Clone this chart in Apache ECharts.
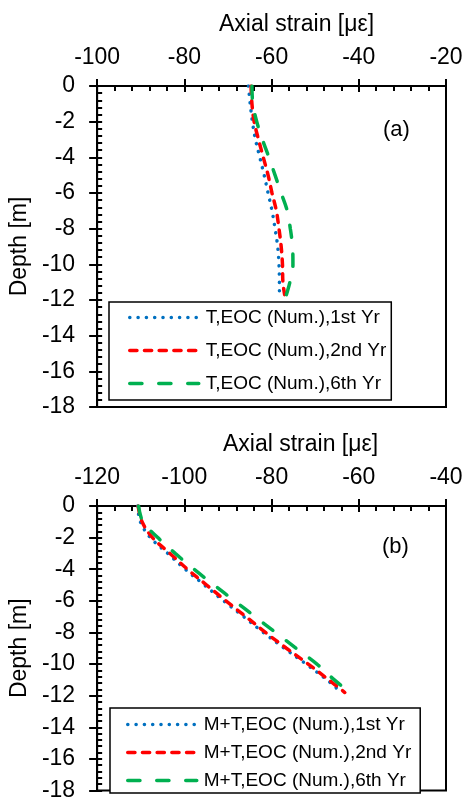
<!DOCTYPE html>
<html>
<head>
<meta charset="utf-8">
<title>Axial strain vs depth</title>
<script src="https://cdn.jsdelivr.net/npm/echarts@6/dist/echarts.min.js"></script>
<style>
  html, body { margin: 0; padding: 0; background: #fff; }
  #chart { width: 466px; height: 802px; }
</style>
</head>
<body>
<div id="chart"></div>
<script>
// Depth stations along the pile [m]
const depthA = [0, -1, -2, -3, -4, -5, -6, -7, -8, -9, -10, -11, -11.7];
const depthB = [0, -1, -2, -3, -4, -5, -6, -7, -8, -9, -10, -11, -11.8];

// (a) thermal load only, axial strain [µε]
const strainA1 = [-65.3, -64.9, -64.4, -63.7, -62.7, -61.7, -60.8, -59.9, -59.2, -58.6, -58.3, -58.2, -58.2];
const strainA2 = [-64.7, -64.5, -64.0, -63.0, -61.9, -60.8, -59.9, -58.9, -58.3, -57.8, -57.5, -57.4, -57.0];
const strainA6 = [-64.5, -64.3, -63.4, -62.1, -60.6, -59.2, -57.8, -56.4, -55.7, -55.2, -55.1, -55.8, -56.6];

// (b) mechanical + thermal load, axial strain [µε]
const strainB1 = [-110.7, -110.1, -107.8, -103.8, -99.8, -95.4, -91.0, -86.4, -81.9, -77.1, -72.1, -67.3, -64.0];
const strainB2 = [-110.6, -109.7, -107.3, -103.3, -99.3, -94.9, -90.5, -85.9, -81.4, -76.6, -71.6, -66.9, -63.2];
const strainB6 = [-110.5, -109.5, -106.1, -102.1, -97.8, -93.2, -88.5, -83.8, -79.1, -74.4, -69.6, -65.6, -62.0];

const namesA = ['T,EOC (Num.),1st Yr', 'T,EOC (Num.),2nd Yr', 'T,EOC (Num.),6th Yr'];
const namesB = ['M+T,EOC (Num.),1st Yr', 'M+T,EOC (Num.),2nd Yr', 'M+T,EOC (Num.),6th Yr'];

const xRangeA = [-100, -20];
const xRangeB = [-120, -40];
const depthRange = [-18, 0];

const FONT = "'Liberation Sans', Arial, sans-serif";
const BLUE = '#0070C0', RED = '#FF0000', GREEN = '#00B050';

const styles = [
  { color: BLUE, width: 3.5, type: [0.1, 8.2], cap: 'round' },
  { color: RED, width: 3.5, type: [7.2, 7.5], cap: 'round' },
  { color: GREEN, width: 3.5, type: [12.2, 16.8], cap: 'round' }
];

function pairs(xs, ys) { return xs.map((v, i) => [v, ys[i]]); }

function xAxes(gridIndex, range, namePad) {
  return [
    {
      gridIndex, type: 'value', position: 'top', min: range[0], max: range[1], interval: 20,
      name: 'Axial strain [\u03bc\u03b5]', nameLocation: 'middle', nameGap: 50,
      nameTextStyle: { fontFamily: FONT, fontSize: 23, color: '#000', padding: [0, 0, 0, namePad] },
      axisLine: { show: true, lineStyle: { color: '#000', width: 2 } },
      axisTick: { show: true, inside: false, length: 7, lineStyle: { color: '#000', width: 2 } },
      axisLabel: { fontFamily: FONT, fontSize: 23, color: '#000', margin: 17 },
      splitLine: { show: false }
    },
    {
      gridIndex, type: 'value', position: 'top', min: range[0], max: range[1], interval: 20,
      axisLine: { show: false },
      axisTick: { show: true, inside: true, length: 6, lineStyle: { color: '#000', width: 2 } },
      minorTick: { show: true, splitNumber: 5, length: 5, lineStyle: { color: '#000', width: 2 } },
      axisLabel: { show: false },
      splitLine: { show: false }
    }
  ];
}

function yAxes(gridIndex) {
  return [
    {
      gridIndex, type: 'value', position: 'left', min: depthRange[0], max: depthRange[1], interval: 2,
      name: 'Depth [m]', nameLocation: 'middle', nameGap: 62,
      nameTextStyle: { fontFamily: FONT, fontSize: 23, color: '#000' },
      axisLine: { show: true, lineStyle: { color: '#000', width: 2 } },
      axisTick: { show: true, inside: false, length: 8, lineStyle: { color: '#000', width: 2 } },
      axisLabel: { fontFamily: FONT, fontSize: 23, color: '#000', margin: 22 },
      splitLine: { show: false }
    },
    {
      gridIndex, type: 'value', position: 'left', min: depthRange[0], max: depthRange[1], interval: 2,
      axisLine: { show: false },
      axisTick: { show: true, inside: true, length: 5, lineStyle: { color: '#000', width: 2 } },
      minorTick: { show: true, splitNumber: 5, length: 5, lineStyle: { color: '#000', width: 2 } },
      axisLabel: { show: false },
      splitLine: { show: false }
    }
  ];
}

function lineSeries(name, xs, ys, idx, style) {
  return {
    name, type: 'line', xAxisIndex: idx, yAxisIndex: idx,
    data: pairs(xs, ys), smooth: 0.35, symbol: 'none', showSymbol: false,
    lineStyle: style, itemStyle: { color: style.color }, silent: true, animation: false
  };
}

function legendBox(names, left, top, gap, pad) {
  return {
    show: true, orient: 'vertical', left, top, data: names,
    itemWidth: 69, itemHeight: 18, itemGap: gap,
    padding: pad, backgroundColor: '#fff',
    borderColor: '#000', borderWidth: 1.5, borderRadius: 0,
    // only the line sample is shown in each legend entry
    itemStyle: { opacity: 0 },
    lineStyle: { width: 3.5 },
    textStyle: { fontFamily: FONT, fontSize: 19, color: '#000', lineHeight: 18, padding: [0, 0, 0, 2] },
    selectedMode: false
  };
}

const chart = echarts.init(document.getElementById('chart'), null, { renderer: 'canvas' });
chart.setOption({
  animation: false,
  backgroundColor: '#fff',
  grid: [
    { left: 96, top: 86, width: 350, height: 321, show: true, borderColor: '#000', borderWidth: 2, backgroundColor: 'transparent' },
    { left: 96, top: 506, width: 350, height: 291, show: true, borderColor: '#000', borderWidth: 2, backgroundColor: 'transparent' }
  ],
  xAxis: [...xAxes(0, xRangeA, 50), ...xAxes(1, xRangeB, 58)],
  yAxis: [...yAxes(0), ...yAxes(1)],
  legend: [
    legendBox(namesA, 109, 302, 14, [6, 5, 7, 19]),
    legendBox(namesB, 110, 708, 9, [7, 9, 3, 16])
  ],
  graphic: [
    { type: 'text', left: 383, top: 119, style: { text: '(a)', font: '22px ' + FONT, fill: '#000' } },
    { type: 'text', left: 382, top: 536, style: { text: '(b)', font: '22px ' + FONT, fill: '#000' } }
  ],
  series: [
    lineSeries(namesA[0], strainA1, depthA, 0, styles[0]),
    lineSeries(namesA[1], strainA2, depthA, 0, styles[1]),
    lineSeries(namesA[2], strainA6, depthA, 0, styles[2]),
    lineSeries(namesB[0], strainB1, depthB, 2, styles[0]),
    lineSeries(namesB[1], strainB2, depthB, 2, styles[1]),
    lineSeries(namesB[2], strainB6, depthB, 2, styles[2])
  ]
});
</script>
</body>
</html>
